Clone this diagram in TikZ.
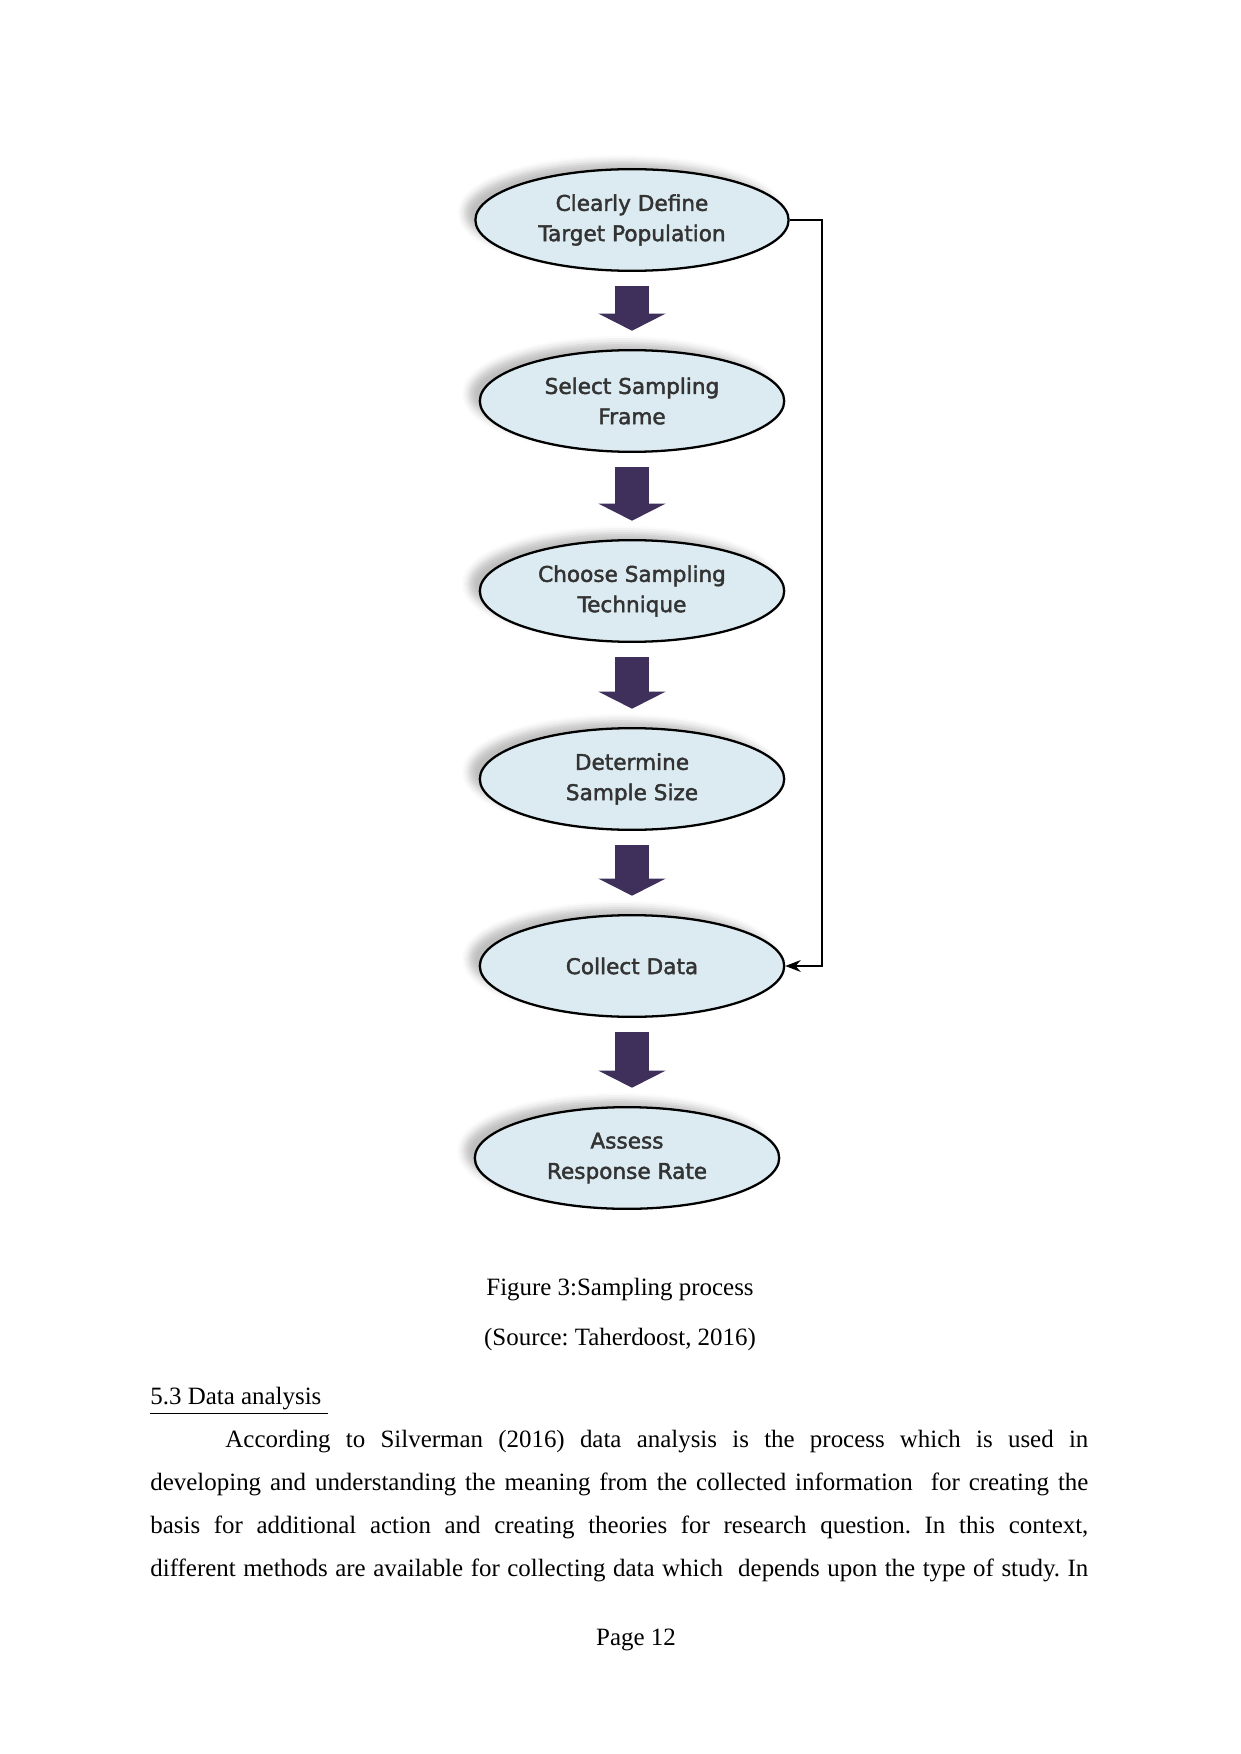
\documentclass[tikz,border=0pt]{standalone}
\usepackage{fontspec}
\setmainfont{Liberation Serif}
\newfontfamily\diagfont{DejaVu Sans}[FakeBold=2]
\usepackage{xcolor}
\usetikzlibrary{arrows.meta, positioning, calc, shapes.geometric, shadows.blur}
\definecolor{stagefill}{HTML}{DCEBF1}
\definecolor{stagetext}{HTML}{333333}
\definecolor{arrowpurple}{HTML}{3E2F5B}
\tikzset{
    samplingdiagram/.style={x=0.1692mm, y=-0.1692mm, font=\fontsize{12}{14}\selectfont},
    stage/.style={ellipse, draw=black, line width=1.1pt, fill=stagefill, inner sep=0pt,
        minimum width=51.5mm, minimum height=17.2mm, align=center, text=stagetext,
        font=\diagfont\fontsize{10.4}{14.6}\selectfont,
        blur shadow={shadow xshift=-1.8mm, shadow yshift=1.2mm, shadow blur radius=1.2mm,
            shadow opacity=25}},
    flowarrow/.style={arrowpurple, line width=5.9mm, -{Triangle[width=11.3mm, length=2.9mm]},
        shorten <=2.4mm, shorten >=3.1mm},
    feedback/.style={-{Stealth[length=2.6mm, width=2mm]}, line width=0.8pt},
    bodytext/.style={inner sep=0pt, align=center},
}

\begin{document}
\begin{tikzpicture}[samplingdiagram]
    \useasboundingbox (0,0) rectangle (1241,1754);

    % the six stages of the sampling process
    \node[stage, minimum width=53mm] (e1) at (632,220)  {Clearly Define\\Target Population};
    \node[stage] (e2) at (632,401)  {Select Sampling\\Frame};
    \node[stage] (e3) at (632,591)  {Choose Sampling\\Technique};
    \node[stage] (e4) at (632,779)  {Determine\\Sample Size};
    \node[stage] (e5) at (632,966)  {Collect Data};
    \node[stage] (e6) at (627,1158) {Assess\\Response Rate};

    \foreach \a/\b in {e1/e2, e2/e3, e3/e4, e4/e5, e5/e6}
        \draw[flowarrow] (\a.south) -- (\a.south |- \b.north);

    % loop back from the first stage to data collection
    \coordinate (rail) at (822,0);
    \draw[feedback] (e1.east) -- (e1.east -| rail) -- (e5.east -| rail) -- (e5.east);

    % caption and the text below it
    \node[bodytext] (caption) at (620,1290) {Figure 3:Sampling process};
    \node[bodytext] (source)  at (620,1339) {\frenchspacing(Source: Taherdoost, 2016)};
    \node[bodytext, anchor=west] (heading) at (150,1401) {\underline{5.3 Data analysis\ }};
    \node[inner sep=0pt, anchor=north west, text width=158.7mm, align=justify,
          font=\fontsize{12}{20.7}\selectfont] (para) at (150,1430)
        {\frenchspacing\parindent=12.7mm\parfillskip=0pt\indent According to Silverman (2016) data analysis is the process which is used in\linebreak
         developing and understanding the meaning from the collected information \ for creating the\linebreak
         basis for additional action and creating theories for research question. In this context,\linebreak
         different methods are available for collecting data which \ depends upon the type of study. In\par};
    \node[bodytext] (pageno) at (636,1640) {Page 12};
\end{tikzpicture}
\end{document}
